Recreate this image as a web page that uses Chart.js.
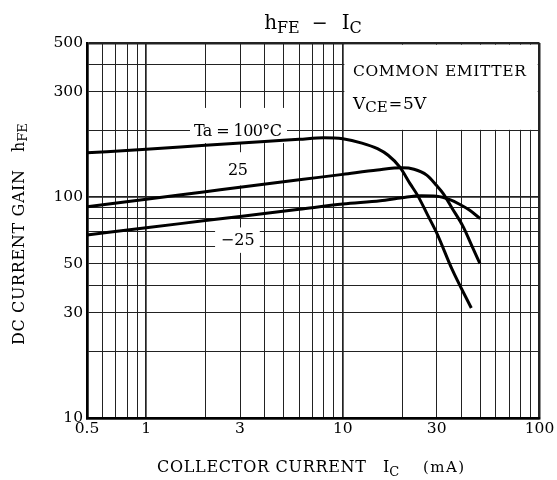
<!DOCTYPE html>
<html lang="en">
<head>
<meta charset="UTF-8">
<title>hFE - IC</title>
<script src="https://cdn.jsdelivr.net/npm/chart.js"></script>
<style>
  body { margin: 0; background: #fff; }
  #wrap { width: 557px; height: 480px; position: relative; }
</style>
</head>
<body>
<div id="wrap"><canvas id="chart"></canvas></div>
<script>
// collector current (mA) and DC current gain, per ambient temperature
const ic100 = [0.5, 1, 2, 4, 6, 8, 10, 12.5, 15, 17, 19.5, 22, 24, 27, 30, 36, 45];
const hfe100 = [159, 165, 172, 179, 183, 186, 184, 176, 166, 155, 137, 115, 102, 83, 69, 47, 31.5];

const ic25 = [0.5, 1, 2, 3, 6, 10, 15, 20, 23, 26.7, 30, 32.4, 36, 40.9, 45, 49.8];
const hfe25 = [90.5, 98, 106, 111, 120, 127, 133, 136, 134, 126, 113, 104, 89, 73.6, 61, 50];

const icM25 = [0.5, 1, 2, 3, 6, 10, 15.5, 20, 25, 30, 35, 39.2, 44, 50];
const hfeM25 = [67.5, 72.8, 78.4, 81.9, 88.2, 93.2, 96.5, 99.5, 101.5, 101, 97.5, 93, 87.5, 80];

// log grid and the ticks that carry a label
const xGrid = [0.5, 0.6, 0.7, 0.8, 0.9, 1, 2, 3, 4, 5, 6, 7, 8, 9, 10, 20, 30, 40, 50, 60, 70, 80, 90, 100];
const xLabels = [0.5, 1, 3, 10, 30, 100];
const yGrid = [10, 20, 30, 40, 50, 60, 70, 80, 90, 100, 200, 300, 400, 500];
const yLabels = [10, 30, 50, 100, 300, 500];

const FONT = '"DejaVu Serif"';

function pairs(xs, ys) {
    return xs.map((x, i) => ({ x: x, y: ys[i] }));
}

// text with an optional target width (spread with letter spacing)
function fitText(ctx, text, x, y, size, width) {
    ctx.font = size + 'px ' + FONT;
    ctx.letterSpacing = '0px';
    if (width) {
        const w = ctx.measureText(text).width;
        const sp = (width - w) / Math.max(1, text.length - 1);
        ctx.letterSpacing = sp.toFixed(2) + 'px';
    }
    ctx.fillText(text, x, y);
    ctx.letterSpacing = '0px';
}

// runs of text with subscripts: [text, size, dy] or a number for a gap
function drawRich(ctx, parts, x, y, center) {
    let total = 0;
    const widths = parts.map(p => {
        if (typeof p === 'number') return p;
        ctx.font = p[1] + 'px ' + FONT;
        return ctx.measureText(p[0]).width;
    });
    widths.forEach(w => total += w);
    let cx = center ? x - total / 2 : x;
    ctx.textAlign = 'left';
    ctx.textBaseline = 'alphabetic';
    parts.forEach((p, i) => {
        if (typeof p !== 'number') {
            ctx.font = p[1] + 'px ' + FONT;
            ctx.fillText(p[0], cx, y + (p[2] || 0));
        }
        cx += widths[i];
    });
}

const curveTags = [
    { text: 'Ta = 100°C', x: 2.92, y: 200, w: 88, box: [1.67, 5.2, 176, 254] },
    { text: '25', x: 2.92, y: 133, w: 20, box: [2.24, 3.78, 113, 160] },
    { text: '\u221225', x: 2.92, y: 64, w: 34, box: [2.24, 3.78, 56, 73] }
];

const notes = {
    id: 'notes',
    beforeDatasetsDraw(chart) {
        const ctx = chart.ctx;
        const xs = chart.scales.x, ys = chart.scales.y;
        ctx.save();
        ctx.fillStyle = '#fff';
        // condition box in the upper right
        const l = xs.getPixelForValue(10) + 1.5, r = xs.getPixelForValue(100) - 1.8;
        const t = ys.getPixelForValue(500) + 1.8, b = ys.getPixelForValue(200) - 1;
        ctx.fillRect(l, t, r - l, b - t);
        curveTags.forEach(c => {
            const x0 = xs.getPixelForValue(c.box[0]), x1 = xs.getPixelForValue(c.box[1]);
            const y0 = ys.getPixelForValue(c.box[3]), y1 = ys.getPixelForValue(c.box[2]);
            ctx.fillRect(x0, y0, x1 - x0, y1 - y0);
        });
        ctx.restore();
    },
    afterDatasetsDraw(chart) {
        const ctx = chart.ctx;
        const xs = chart.scales.x, ys = chart.scales.y;
        ctx.save();
        ctx.fillStyle = '#000';
        ctx.textAlign = 'center';
        ctx.textBaseline = 'middle';
        curveTags.forEach(c => {
            fitText(ctx, c.text, xs.getPixelForValue(c.x), ys.getPixelForValue(c.y) + 1, 16, c.w);
        });
        ctx.textAlign = 'left';
        ctx.textBaseline = 'alphabetic';
        fitText(ctx, 'COMMON EMITTER', 353, 76, 15.5, 173);
        drawRich(ctx, [['V', 17], ['CE', 15, 3], 1, ['=', 16], 1, ['5V', 17]], 353, 109, false);
        ctx.restore();
    },
    afterDraw(chart) {
        const ctx = chart.ctx;
        ctx.save();
        ctx.fillStyle = '#000';
        // title
        drawRich(ctx, [['h', 20], ['FE', 16, 4], 12, ['\u2212', 19], 14, ['I', 20], ['C', 16, 4]], 313, 29, true);
        // x axis title
        ctx.textAlign = 'left';
        ctx.textBaseline = 'alphabetic';
        fitText(ctx, 'COLLECTOR CURRENT', 157, 472, 16, 209);
        drawRich(ctx, [['I', 16], ['C', 13, 4]], 383, 472, false);
        fitText(ctx, '(mA)', 423, 472, 15, 41);
        // y axis title, rotated
        ctx.translate(24, 0);
        ctx.rotate(-Math.PI / 2);
        ctx.textAlign = 'left';
        fitText(ctx, 'DC CURRENT GAIN', -345, 0, 16, 175);
        drawRich(ctx, [['h', 16], ['FE', 13, 3]], -152, 0, false);
        ctx.restore();
    }
};

function gridWidth(edges, heavy) {
    return c => {
        const v = c.tick && c.tick.value;
        if (edges.includes(v)) return 2.5;
        if (heavy.includes(v)) return 1.7;
        return 1;
    };
}

const curveStyle = {
    showLine: true,
    borderColor: '#000',
    borderWidth: 3,
    pointRadius: 0,
    cubicInterpolationMode: 'monotone',
    fill: false
};

document.addEventListener('DOMContentLoaded', () => {
    Chart.defaults.font.family = FONT;
    Chart.defaults.color = '#000';
    new Chart(document.getElementById('chart'), {
        type: 'scatter',
        data: {
            datasets: [
                Object.assign({ label: 'Ta = 100°C', data: pairs(ic100, hfe100) }, curveStyle),
                Object.assign({ label: '25', data: pairs(ic25, hfe25) }, curveStyle),
                Object.assign({ label: '-25', data: pairs(icM25, hfeM25) }, curveStyle)
            ]
        },
        options: {
            responsive: true,
            maintainAspectRatio: false,
            animation: false,
            layout: { padding: { left: 0, right: 17.5, top: 43, bottom: 0 } },
            plugins: { legend: { display: false }, tooltip: { enabled: false } },
            scales: {
                x: {
                    type: 'logarithmic',
                    min: 0.5,
                    max: 100,
                    afterBuildTicks: s => { s.ticks = xGrid.map(v => ({ value: v })); },
                    afterFit: s => { s.height = 62; },
                    grid: { color: '#222', lineWidth: gridWidth([0.5, 100], [1, 10]), drawTicks: false },
                    border: { color: '#000', width: 2.5 },
                    ticks: {
                        autoSkip: false,
                        maxRotation: 0,
                        padding: 2,
                        font: { size: 15.5 },
                        callback: v => xLabels.includes(v) ? String(v) : ''
                    }
                },
                y: {
                    type: 'logarithmic',
                    min: 10,
                    max: 500,
                    afterBuildTicks: s => { s.ticks = yGrid.map(v => ({ value: v })); },
                    afterFit: s => { s.width = 87; },
                    grid: { color: '#222', lineWidth: gridWidth([10, 500], [100]), drawTicks: false },
                    border: { color: '#000', width: 2.5 },
                    ticks: {
                        autoSkip: false,
                        padding: 4,
                        font: { size: 15.5 },
                        callback: v => yLabels.includes(v) ? String(v) : ''
                    }
                }
            }
        },
        plugins: [notes]
    });
});
</script>
</body>
</html>
